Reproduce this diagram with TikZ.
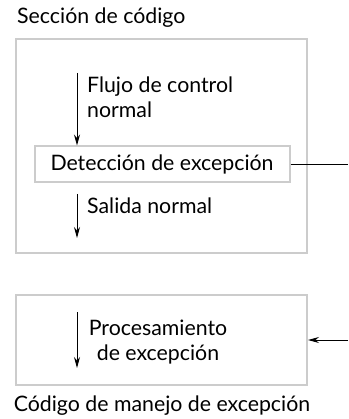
\documentclass[tikz,border=0pt]{standalone}
\usepackage{fontspec}
\setmainfont{Lato}
\usetikzlibrary{arrows.meta}
\begin{document}
\begin{tikzpicture}[x=1pt,y=-1pt,
  every node/.style={font=\fontsize{21.3}{25}\selectfont},
  graybox/.style={draw=black!20,line width=2pt},
  lbl/.style={inner sep=0pt,anchor=base west},
  flow/.style={line width=1pt,-{Stealth[length=11pt,width=6pt]}},
  lnk/.style={line width=1pt}]
\useasboundingbox (0,0) rectangle (348,419);
% frames
\node[graybox,minimum width=291pt,minimum height=214pt,inner sep=0pt] (sec) at (161.5,146) {};
\node[graybox,minimum width=291pt,minimum height=90pt,inner sep=0pt] (man) at (161.5,340) {};
\node[graybox,minimum width=255pt,minimum height=36pt,inner sep=0pt] (det) at (162,164.5) {Detección de excepción};
% titles
\node[lbl] (t1) at (17,24) {Sección de código};
\node[lbl,anchor=base] (t2) at (162,411) {Código de manejo de excepción};
% texts
\node[lbl,align=left] (flujo) at (87,118) {Flujo de control\\normal};
\node[lbl] (salida) at (87,213) {Salida normal};
\node[lbl,align=center,anchor=base] (proc) at (158,360) {Procesamiento\\de excepción};
% arrows
\coordinate (a1s) at (77,73);
\coordinate (a2s) at (77,194);
\coordinate (a2e) at (77,238);
\coordinate (a3s) at (77,312);
\coordinate (a3e) at (77,368);
\coordinate (edge) at (348,0);
\draw[flow] (a1s) -- (a1s |- det.north);
\draw[flow] (a2s) -- (a2e);
\draw[flow] (a3s) -- (a3e);
\draw[lnk] (det.east) -- (det.east -| edge);
\draw[flow] (man.east -| edge) -- (man.east);
\end{tikzpicture}
\end{document}
